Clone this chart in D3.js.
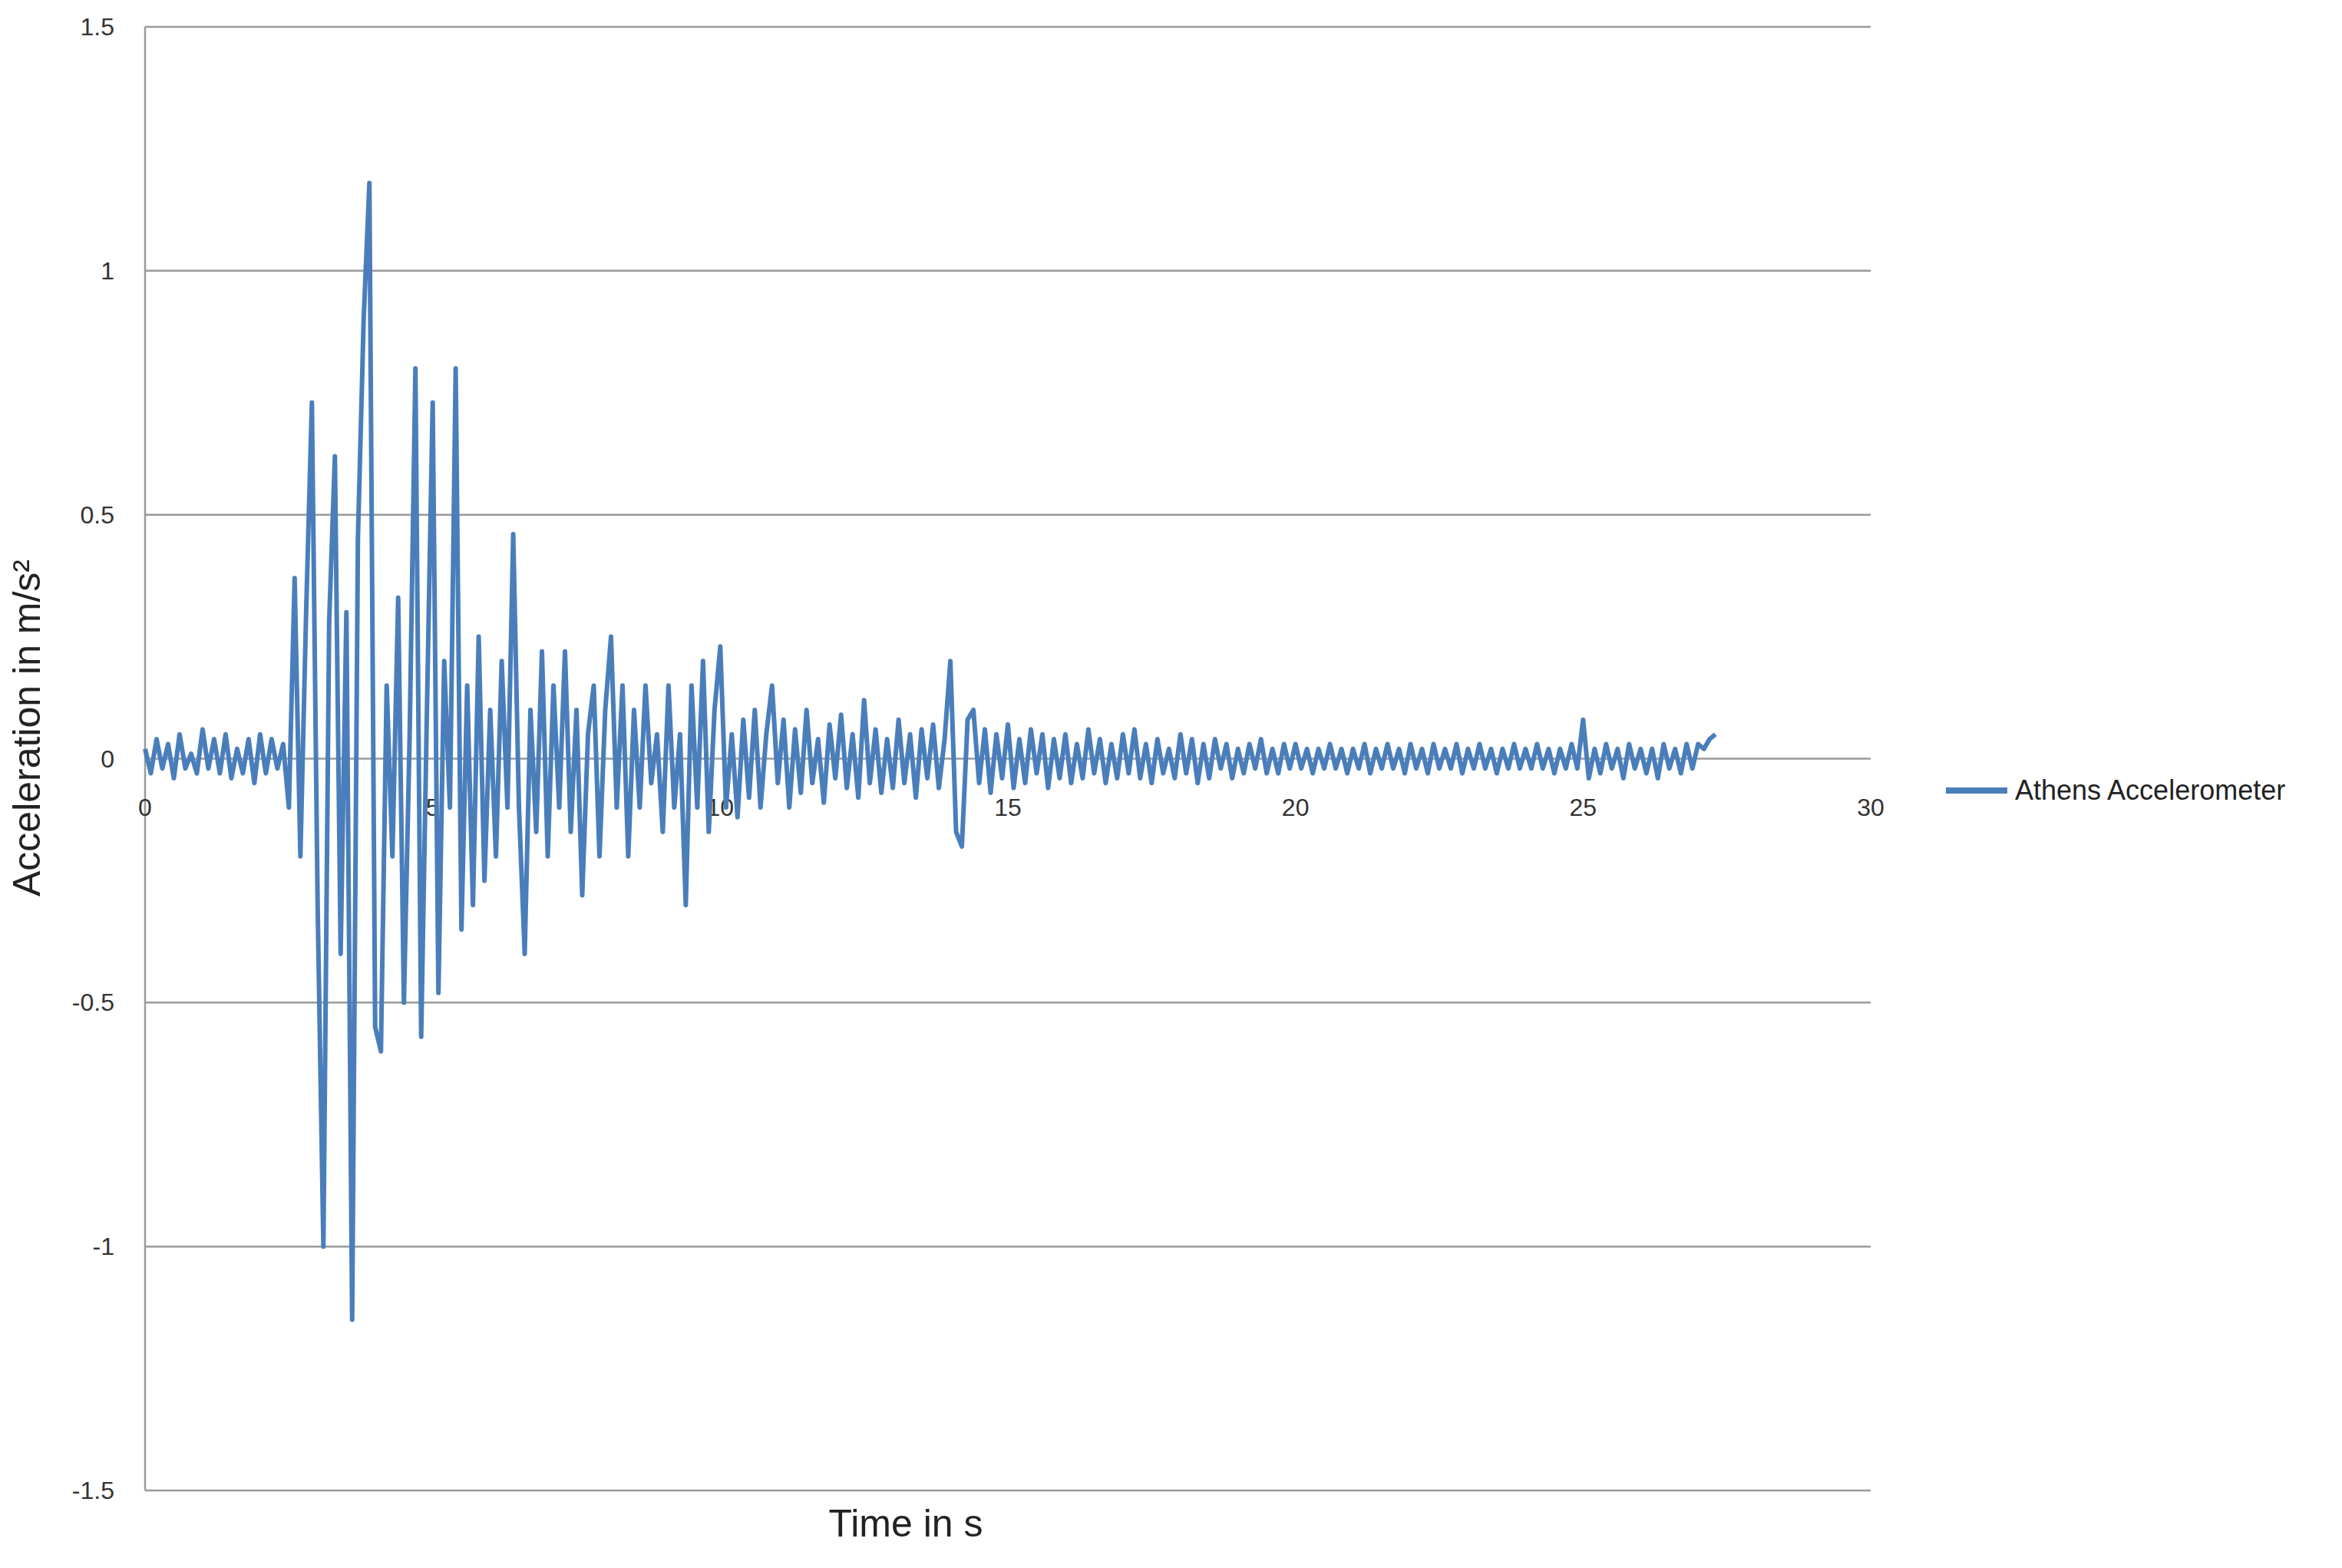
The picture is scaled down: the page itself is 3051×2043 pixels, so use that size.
<!DOCTYPE html>
<html><head><meta charset="utf-8">
<script src="https://cdn.jsdelivr.net/npm/d3@7"></script>
<style>body{margin:0;background:#fff}</style></head>
<body><svg id="c" width="3051" height="2043"></svg>
<script>
const timeStep = 0.1;
const accel = [
0.02,-0.03,0.04,-0.02,0.03,-0.04,0.05,-0.02,0.01,-0.03,0.06,-0.02,0.04,-0.03,0.05,-0.04,0.02,-0.03,0.04,-0.05,0.05,-0.03,0.04,-0.02,0.03,
-0.1,0.37,-0.2,0.3,0.73,-0.3,-1.0,0.28,0.62,-0.4,0.3,-1.15,0.45,0.9,1.18,-0.55,-0.6,0.15,-0.2,0.33,-0.5,0.05,0.8,-0.57,0.1,
0.73,-0.48,0.2,-0.1,0.8,-0.35,0.15,-0.3,0.25,-0.25,0.1,-0.2,0.2,-0.1,0.46,-0.1,-0.4,0.1,-0.15,0.22,
-0.2,0.15,-0.1,0.22,-0.15,0.1,-0.28,0.05,0.15,-0.2,0.1,0.25,-0.1,0.15,-0.2,0.1,-0.1,0.15,-0.05,0.05,
-0.15,0.15,-0.1,0.05,-0.3,0.15,-0.1,0.2,-0.15,0.1,0.23,-0.1,0.05,-0.12,0.08,-0.08,0.1,-0.1,0.05,0.15,
-0.05,0.08,-0.1,0.06,-0.07,0.1,-0.05,0.04,-0.09,0.07,-0.04,0.09,-0.06,0.05,-0.08,0.12,-0.05,0.06,-0.07,0.04,
-0.06,0.08,-0.05,0.05,-0.08,0.06,-0.04,0.07,-0.06,0.04,
0.2,-0.15,-0.18,0.08,0.1,-0.05,0.06,-0.07,0.05,-0.04,0.07,-0.06,0.04,-0.05,0.06,-0.03,0.05,-0.06,0.04,-0.04,
0.05,-0.05,0.03,-0.04,0.06,-0.03,0.04,-0.05,0.03,-0.04,0.05,-0.03,0.06,-0.04,0.03,-0.05,0.04,-0.03,0.02,-0.04,
0.05,-0.03,0.04,-0.05,0.03,-0.04,0.04,-0.02,0.03,-0.04,0.02,-0.03,0.03,-0.02,0.04,-0.03,0.02,-0.03,0.03,-0.02,
0.03,-0.02,0.02,-0.03,0.02,-0.02,0.03,-0.02,0.02,-0.03,0.02,-0.02,0.03,-0.03,0.02,-0.02,0.03,-0.02,0.02,-0.03,
0.03,-0.02,0.02,-0.03,0.03,-0.02,0.02,-0.02,0.03,-0.03,0.02,-0.02,0.03,-0.02,0.02,-0.03,0.02,-0.02,0.03,-0.02,
0.02,-0.02,0.03,-0.02,0.02,-0.03,0.02,-0.02,0.03,-0.02,0.08,-0.04,0.02,-0.03,0.03,-0.02,0.02,-0.04,0.03,-0.02,
0.02,-0.03,0.02,-0.04,0.03,-0.02,0.02,-0.03,0.03,-0.02,0.03,0.02,0.04,0.05
];
const xTicks = [0,5,10,15,20,25,30];
const yTicks = [-1.5,-1,-0.5,0,0.5,1,1.5];
const seriesName = "Athens Accelerometer";

const svg = d3.select("#c");
const L=189,R=2437,T=35,B=1942;
const x=d3.scaleLinear().domain([0,30]).range([L,R]);
const y=d3.scaleLinear().domain([-1.5,1.5]).range([B,T]);
const font="Liberation Sans, Arial, sans-serif";

svg.append("g").selectAll("line").data(yTicks).join("line")
 .attr("x1",L).attr("x2",R).attr("y1",d=>y(d)).attr("y2",d=>y(d))
 .attr("stroke","#9a9a9a").attr("stroke-width",2.5);
svg.append("line").attr("x1",L).attr("x2",L).attr("y1",T).attr("y2",B).attr("stroke","#9a9a9a").attr("stroke-width",2.5);

svg.append("g").selectAll("text").data(yTicks).join("text")
 .attr("x",L-40).attr("y",d=>y(d)+11).attr("text-anchor","end")
 .attr("font-family",font).attr("font-size",32).attr("fill","#333")
 .text(d=>d);
svg.append("g").selectAll("text").data(xTicks).join("text")
 .attr("x",d=>x(d)).attr("y",y(0)+74).attr("text-anchor","middle")
 .attr("font-family",font).attr("font-size",32).attr("fill","#333")
 .text(d=>d);

const line=d3.line().x((d,i)=>x(i*timeStep)).y(d=>y(d));
svg.append("path").datum(accel).attr("d",line).attr("fill","none")
 .attr("stroke","#4a7ebb").attr("stroke-width",6).attr("stroke-linejoin","round");

svg.append("text").attr("transform",`translate(52,${y(0)-40}) rotate(-90)`)
 .attr("text-anchor","middle").attr("font-family",font).attr("font-size",50).attr("fill","#222")
 .text("Acceleration in m/s²");
svg.append("text").attr("x",1180).attr("y",2002).attr("text-anchor","middle")
 .attr("font-family",font).attr("font-size",50).attr("fill","#222").text("Time in s");

svg.append("line").attr("x1",2535).attr("x2",2615).attr("y1",1030).attr("y2",1030)
 .attr("stroke","#4a7ebb").attr("stroke-width",8);
svg.append("text").attr("x",2625).attr("y",1042).attr("font-family",font).attr("font-size",36)
 .attr("fill","#222").text(seriesName);
</script></body></html>
